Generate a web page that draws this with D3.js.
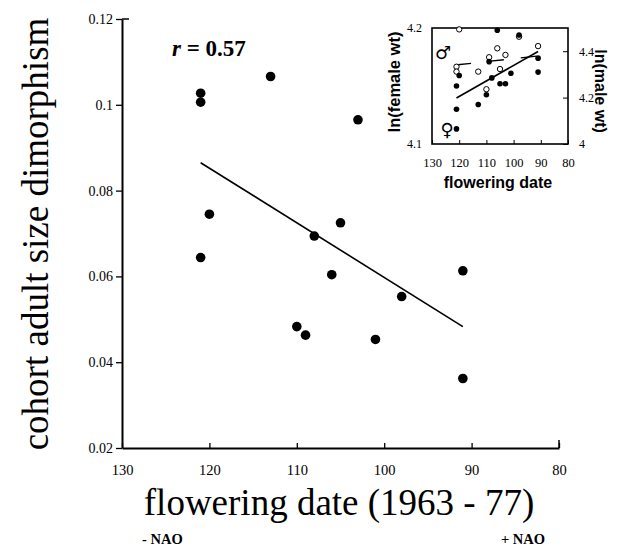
<!DOCTYPE html>
<html>
<head>
<meta charset="utf-8">
<script src="https://cdn.jsdelivr.net/npm/d3@7"></script>
<style>
body { margin: 0; background: #fff; }
</style>
</head>
<body>
<div id="dis"></div>
<script>
// main panel: cohort dimorphism vs flowering date
var mainDate = [121, 121, 113, 103, 120, 105, 108, 121, 106, 110, 109, 101, 98, 91, 91];
var mainDimorph = [0.1027, 0.1006, 0.1066, 0.0965, 0.0745, 0.0725, 0.0694, 0.0644, 0.0604, 0.0483, 0.0463, 0.0453, 0.0553, 0.0613, 0.0362];
var mainFitDate = [121, 91];
var mainFitValue = [0.0865, 0.0483];
var xTicks = [130, 120, 110, 100, 90, 80];
var yTicks = [0.02, 0.04, 0.06, 0.08, 0.1, 0.12];
var yTickLabels = ["0.02", "0.04", "0.06", "0.08", "0.1", "0.12"];

// inset: ln weights vs flowering date
var femaleDate = [121, 121, 121, 120, 113, 110, 109, 108, 106, 105, 103, 101, 98, 91, 91];
var femaleWt = [4.150, 4.130, 4.113, 4.159, 4.134, 4.1425, 4.171, 4.157, 4.198, 4.152, 4.152, 4.161, 4.194, 4.174, 4.162];
var maleDate = [120, 98, 106, 103, 109, 91, 121, 121, 113, 105, 110];
var maleWt = [4.494, 4.4625, 4.4125, 4.384, 4.374, 4.422, 4.333, 4.312, 4.312, 4.323, 4.236];
var femaleFitDate = [121, 91];
var femaleFitWt = [4.1397, 4.1797];
var maleFitDate = [121.5, 91];
var maleFitWt = [4.3405, 4.379];
var insetFemaleTicks = [4.1, 4.2];
var insetMaleTicks = [4, 4.2, 4.4];

var serif = "'Liberation Serif', 'Times New Roman', serif";
var sans = "'Liberation Sans', Arial, sans-serif";

var draw = function() {
    var width = 620;
    var height = 548;

    var svg = d3.select("#dis").append("svg")
        .attr("width", width)
        .attr("height", height)
        .style("display", "block");

    var x = d3.scaleLinear().domain([130, 80]).range([122, 559]);
    var y = d3.scaleLinear().domain([0.02, 0.12]).range([448, 19]);

    // axes
    var xAxis = svg.append("g")
        .attr("transform", "translate(0," + y(0.02) + ")")
        .call(d3.axisBottom(x)
            .tickValues(xTicks)
            .tickFormat(d => d)
            .tickSizeInner(-5)
            .tickSizeOuter(0)
            .tickPadding(17));
    xAxis.select(".domain").attr("stroke-width", 2);
    xAxis.selectAll(".tick line").attr("stroke-width", 1.3);
    xAxis.selectAll(".tick text")
        .attr("font-family", serif)
        .attr("font-size", 14.5)
        .attr("fill", "#000");
    // taller end tick at 80
    svg.append("line")
        .attr("x1", x(80)).attr("x2", x(80))
        .attr("y1", y(0.02)).attr("y2", y(0.02) - 8)
        .attr("stroke", "#000")
        .attr("stroke-width", 1.5);

    var yAxis = svg.append("g")
        .attr("transform", "translate(" + x(130) + ",0)")
        .call(d3.axisLeft(y)
            .tickValues(yTicks)
            .tickFormat((d, i) => yTickLabels[i])
            .tickSizeInner(6)
            .tickSizeOuter(0)
            .tickPadding(3));
    yAxis.select(".domain").attr("stroke-width", 2);
    yAxis.selectAll(".tick line").attr("stroke-width", 1.3);
    yAxis.selectAll(".tick text")
        .attr("font-family", serif)
        .attr("font-size", 14)
        .attr("fill", "#000");
    // cap at the top of the y axis
    svg.append("line")
        .attr("x1", x(130)).attr("x2", x(130) + 7)
        .attr("y1", y(0.12)).attr("y2", y(0.12))
        .attr("stroke", "#000")
        .attr("stroke-width", 1.5);

    // regression line
    svg.append("line")
        .attr("x1", x(mainFitDate[0])).attr("y1", y(mainFitValue[0]))
        .attr("x2", x(mainFitDate[1])).attr("y2", y(mainFitValue[1]))
        .attr("stroke", "#000")
        .attr("stroke-width", 1.6);

    svg.append("g")
        .selectAll("circle")
        .data(mainDate)
        .join("circle")
            .attr("cx", d => x(d))
            .attr("cy", (d, i) => y(mainDimorph[i]))
            .attr("r", 4.8)
            .attr("fill", "#000");

    // r label
    var rl = svg.append("text")
        .attr("x", 172)
        .attr("y", 56)
        .attr("font-family", serif)
        .attr("font-size", 23)
        .attr("font-weight", "bold");
    rl.append("tspan").attr("font-style", "italic").text("r");
    rl.append("tspan").text(" = 0.57");

    // axis titles
    svg.append("text")
        .attr("transform", "translate(48,234) rotate(-90)")
        .attr("text-anchor", "middle")
        .attr("font-family", serif)
        .attr("font-size", 37)
        .text("cohort adult size dimorphism");

    svg.append("text")
        .attr("x", 339)
        .attr("y", 515)
        .attr("text-anchor", "middle")
        .attr("font-family", serif)
        .attr("font-size", 37)
        .text("flowering date (1963 - 77)");

    svg.append("text")
        .attr("x", 142)
        .attr("y", 544)
        .attr("font-family", serif)
        .attr("font-size", 14.5)
        .attr("font-weight", "bold")
        .text("- NAO");
    svg.append("text")
        .attr("x", 545)
        .attr("y", 544)
        .attr("text-anchor", "end")
        .attr("font-family", serif)
        .attr("font-size", 14.5)
        .attr("font-weight", "bold")
        .text("+ NAO");

    // ---- inset ----
    var ix = d3.scaleLinear().domain([130, 80]).range([432, 568]);
    var iyF = d3.scaleLinear().domain([4.1, 4.2]).range([144, 28]);
    var iyM = d3.scaleLinear().domain([4, 4.5]).range([144, 28]);

    var inset = svg.append("g");

    var ib = inset.append("g")
        .attr("transform", "translate(0,144)")
        .call(d3.axisBottom(ix)
            .tickValues(xTicks)
            .tickFormat(d => d)
            .tickSizeInner(-4)
            .tickSizeOuter(0)
            .tickPadding(14));
    ib.select(".domain").remove();
    ib.selectAll(".tick text")
        .attr("font-family", serif)
        .attr("font-size", 12.5)
        .attr("fill", "#000");

    var il = inset.append("g")
        .attr("transform", "translate(432,0)")
        .call(d3.axisLeft(iyF)
            .tickValues(insetFemaleTicks)
            .tickFormat(d => d)
            .tickSizeInner(0)
            .tickSizeOuter(0)
            .tickPadding(10));
    il.select(".domain").remove();
    il.selectAll(".tick text")
        .attr("font-family", serif)
        .attr("font-size", 12)
        .attr("fill", "#000");

    var ir = inset.append("g")
        .attr("transform", "translate(568,0)")
        .call(d3.axisRight(iyM)
            .tickValues(insetMaleTicks)
            .tickFormat(d => d)
            .tickSizeInner(-5)
            .tickSizeOuter(0)
            .tickPadding(11));
    ir.select(".domain").remove();
    ir.selectAll(".tick text")
        .attr("font-family", serif)
        .attr("font-size", 12)
        .attr("fill", "#000");

    inset.append("rect")
        .attr("x", ix(130))
        .attr("y", iyM(4.5))
        .attr("width", ix(80) - ix(130))
        .attr("height", iyM(4) - iyM(4.5))
        .attr("fill", "none")
        .attr("stroke", "#000")
        .attr("stroke-width", 1.6);

    inset.append("line")
        .attr("x1", ix(femaleFitDate[0])).attr("y1", iyF(femaleFitWt[0]))
        .attr("x2", ix(femaleFitDate[1])).attr("y2", iyF(femaleFitWt[1]))
        .attr("stroke", "#000")
        .attr("stroke-width", 1.6);
    inset.append("line")
        .attr("x1", ix(maleFitDate[0])).attr("y1", iyM(maleFitWt[0]))
        .attr("x2", ix(maleFitDate[1])).attr("y2", iyM(maleFitWt[1]))
        .attr("stroke", "#000")
        .attr("stroke-width", 1.3)
        .attr("stroke-dasharray", "16,17");

    inset.append("g")
        .selectAll("circle")
        .data(maleDate)
        .join("circle")
            .attr("cx", d => ix(d))
            .attr("cy", (d, i) => iyM(maleWt[i]))
            .attr("r", 2.7)
            .attr("fill", "#fff")
            .attr("stroke", "#000")
            .attr("stroke-width", 1);

    inset.append("g")
        .selectAll("circle")
        .data(femaleDate)
        .join("circle")
            .attr("cx", d => ix(d))
            .attr("cy", (d, i) => iyF(femaleWt[i]))
            .attr("r", 2.8)
            .attr("fill", "#000");

    inset.append("text")
        .attr("x", 443).attr("y", 59)
        .attr("text-anchor", "middle")
        .attr("font-family", "'DejaVu Sans', sans-serif")
        .attr("font-size", 18)
        .text("\u2642");
    inset.append("text")
        .attr("x", 447).attr("y", 136)
        .attr("text-anchor", "middle")
        .attr("font-family", "'DejaVu Sans', sans-serif")
        .attr("font-size", 18)
        .text("\u2640");

    inset.append("text")
        .attr("x", 498)
        .attr("y", 188)
        .attr("text-anchor", "middle")
        .attr("font-family", sans)
        .attr("font-size", 16)
        .attr("font-weight", "bold")
        .text("flowering date");
    inset.append("text")
        .attr("transform", "translate(400,82) rotate(-90)")
        .attr("text-anchor", "middle")
        .attr("font-family", sans)
        .attr("font-size", 16.5)
        .attr("font-weight", "bold")
        .text("ln(female wt)");
    inset.append("text")
        .attr("transform", "translate(595,91) rotate(90)")
        .attr("text-anchor", "middle")
        .attr("font-family", sans)
        .attr("font-size", 16)
        .attr("font-weight", "bold")
        .text("ln(male wt)");
};

window.onload = function() {
    draw();
};
</script>
</body>
</html>
